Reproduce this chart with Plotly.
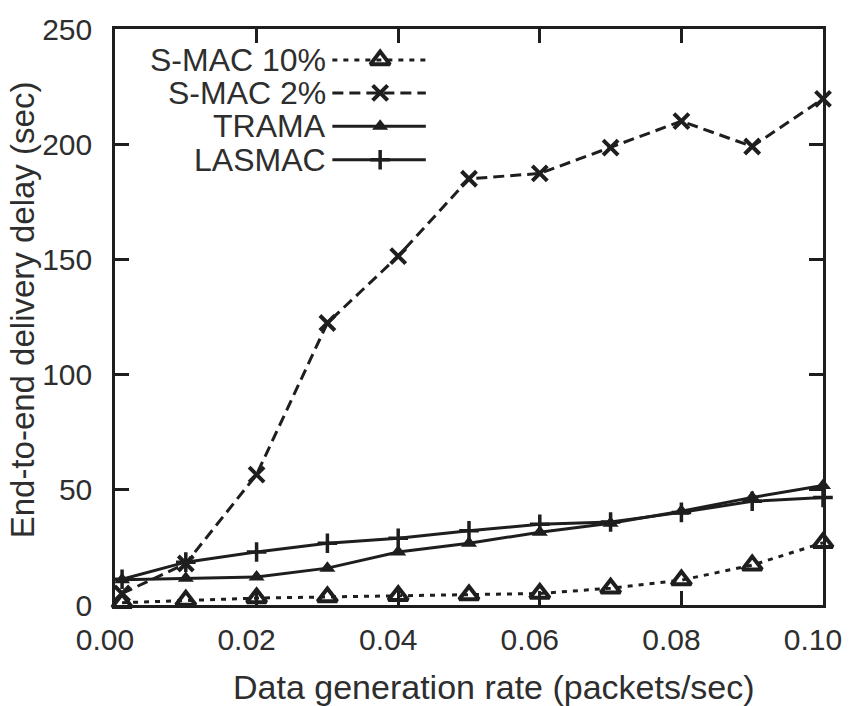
import plotly.graph_objects as go

rate = [0.001, 0.01, 0.02, 0.03, 0.04, 0.05, 0.06, 0.07, 0.08, 0.09, 0.10]
smac10 = [1.0, 2.0, 3.0, 3.5, 4.0, 4.3, 5.0, 7.3, 10.8, 17.3, 27.0]
smac2 = [5.0, 18.0, 56.6, 122.4, 151.4, 185.0, 187.3, 198.5, 210.0, 199.0, 219.7]
trama = [11.0, 11.6, 12.2, 16.0, 23.0, 26.8, 31.6, 35.5, 40.7, 46.7, 51.9]
lasmac = [11.2, 18.6, 23.0, 26.8, 29.0, 32.2, 35.0, 36.0, 40.2, 45.0, 46.7]

names = ["S-MAC 10%", "S-MAC 2%", "TRAMA", "LASMAC"]
x_ticks = [0.0, 0.02, 0.04, 0.06, 0.08, 0.10]
x_ticktext = ["0.00", "0.02", "0.04", "0.06", "0.08", "0.10"]
y_ticks = [0, 50, 100, 150, 200, 250]
x_title = "Data generation rate (packets/sec)"
y_title = "End-to-end delivery delay (sec)"

INK = "#1e1e1e"
TXT = "#2e2e2e"
FONT = "Liberation Sans, Arial, sans-serif"

styles = [
    dict(dash="5px,6px", symbol="triangle-up-open", size=17, mlw=4),
    dict(dash="11px,6px", symbol="x-thin-open", size=15, mlw=4),
    dict(dash="solid", symbol="triangle-up", size=14, mlw=0),
    dict(dash="solid", symbol="cross-thin-open", size=14, mlw=3.5),
]
series = [smac10, smac2, trama, lasmac]

fig = go.Figure()
for name, ys, st in zip(names, series, styles):
    fig.add_trace(go.Scatter(
        x=rate, y=ys, name=name, mode="lines+markers",
        line=dict(color=INK, width=3, dash=st["dash"]),
        marker=dict(symbol=st["symbol"], size=st["size"], color=INK,
                    line=dict(color=INK, width=st["mlw"])),
        showlegend=False, cliponaxis=False,
    ))

# custom gnuplot-style legend (text on the left, sample on the right)
leg_rows = [0.946, 0.889, 0.831, 0.773]
text_right = 0.3015
line_x0, line_x1, mark_x = 0.307, 0.439, 0.3745
for name, st, yy in zip(names, styles, leg_rows):
    fig.add_shape(type="line", xref="paper", yref="paper",
                  x0=line_x0, x1=line_x1, y0=yy, y1=yy,
                  line=dict(color=INK, width=3, dash=st["dash"]))
    fig.add_annotation(text=name, xref="paper", yref="paper", x=text_right, y=yy,
                       xanchor="right", yanchor="middle", showarrow=False,
                       font=dict(family=FONT, size=32, color=TXT))
    fig.add_trace(go.Scatter(
        x=[mark_x], y=[yy], xaxis="x2", yaxis="y2", mode="markers",
        marker=dict(symbol=st["symbol"], size=st["size"], color=INK,
                    line=dict(color=INK, width=st["mlw"])),
        showlegend=False, hoverinfo="skip",
    ))

# axis titles (placed like the gnuplot original)
fig.add_annotation(text=x_title, xref="paper", yref="paper", x=0.535, y=-0.143,
                   xanchor="center", yanchor="middle", showarrow=False,
                   font=dict(family=FONT, size=34, color=TXT))
fig.add_annotation(text=y_title, xref="paper", yref="paper", x=-0.131, y=0.512,
                   xanchor="center", yanchor="middle", showarrow=False, textangle=-90,
                   font=dict(family=FONT, size=33, color=TXT))

axis_common = dict(showline=True, linecolor=INK, linewidth=2.5, mirror="ticks",
                   ticks="inside", ticklen=14, tickwidth=2.5, tickcolor=INK,
                   showgrid=False, zeroline=False,
                   tickfont=dict(family=FONT, size=30, color=TXT))

fig.update_layout(
    width=854, height=706,
    margin=dict(l=115, r=26, t=27, b=101),
    paper_bgcolor="white", plot_bgcolor="white",
    xaxis=dict(range=[0, 0.10], tickvals=x_ticks, ticktext=x_ticktext,
               ticklabelstandoff=6, ticklabelshift=-10, **axis_common),
    yaxis=dict(range=[0, 250], tickvals=y_ticks, ticklabelstandoff=14, **axis_common),
    xaxis2=dict(overlaying="x", range=[0, 1], visible=False, fixedrange=True),
    yaxis2=dict(overlaying="y", range=[0, 1], visible=False, fixedrange=True),
)

fig.write_html("out.html")
